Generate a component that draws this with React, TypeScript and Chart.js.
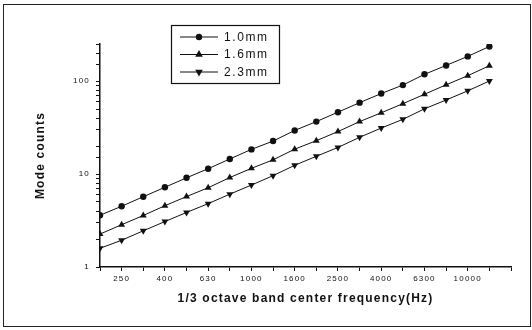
import { useEffect, useRef } from 'react';
import { Chart, registerables } from 'chart.js';
Chart.register(...registerables);

const bands = ['200', '250', '315', '400', '500', '630', '800', '1000', '1250', '1600', '2000', '2500', '3150', '4000', '5000', '6300', '8000', '10000', '12500', '16000'];
const labeledBands = ['250', '400', '630', '1000', '1600', '2500', '4000', '6300', '10000'];
const seriesNames = ['1.0mm', '1.6mm', '2.3mm'];
const mm10 = [3.6, 4.5, 5.7, 7.2, 9.1, 11.4, 14.5, 18.4, 22.6, 29.4, 36.6, 46.2, 58.5, 73.3, 90.4, 118, 147, 184, 235];
const mm16 = [2.26, 2.85, 3.58, 4.56, 5.72, 7.12, 9.16, 11.5, 14.2, 18.5, 22.8, 28.6, 36.6, 45.5, 57, 72, 91, 114, 146];
const mm23 = [1.59, 1.94, 2.45, 3.08, 3.86, 4.8, 6.07, 7.6, 9.6, 12.4, 15.5, 19.3, 24.8, 31.2, 38.7, 50.2, 62.5, 78.4, 100];
const yTickLabels = [1, 10, 100];
const xTitle = '1/3 octave band center frequency(Hz)';
const yTitle = 'Mode counts';

const seriesValues = [mm10, mm16, mm23];
const styles = [
  { pointStyle: 'circle', rotation: 0, radius: 3.2 },
  { pointStyle: 'triangle', rotation: 0, radius: 4 },
  { pointStyle: 'triangle', rotation: 180, radius: 4 },
];

function drawMarker(ctx: CanvasRenderingContext2D, style: string, rotation: number, r: number, x: number, y: number) {
  ctx.beginPath();
  if (style === 'circle') {
    ctx.arc(x, y, r, 0, Math.PI * 2);
  } else {
    const rad = (rotation * Math.PI) / 180;
    for (let k = 0; k < 3; k++) {
      const a = rad - Math.PI / 2 + (k * 2 * Math.PI) / 3;
      const px = x + Math.cos(a) * r * 1.1;
      const py = y + Math.sin(a) * r * 1.1;
      if (k === 0) ctx.moveTo(px, py);
      else ctx.lineTo(px, py);
    }
    ctx.closePath();
  }
  ctx.fill();
}

const framePlugin = {
  id: 'framePlugin',
  beforeDraw(chart: any) {
    chart.ctx.letterSpacing = '1.2px';
  },
  afterDraw(chart: any) {
    const ctx = chart.ctx as CanvasRenderingContext2D;
    ctx.save();
    ctx.strokeStyle = '#222';
    ctx.lineWidth = 1;
    ctx.strokeRect(3.5, 4.5, 527, 322);
    // legend box
    ctx.lineWidth = 1.2;
    ctx.strokeStyle = '#111';
    ctx.strokeRect(171.5, 25.5, 108, 58);
    ctx.fillStyle = '#111';
    ctx.font = '12px "Liberation Sans", Arial, sans-serif';
    ctx.letterSpacing = '1.6px';
    ctx.textBaseline = 'middle';
    chart.data.datasets.forEach((ds: any, i: number) => {
      const y = 37 + i * 17.5;
      ctx.beginPath();
      ctx.lineWidth = 1;
      ctx.moveTo(180, y);
      ctx.lineTo(218, y);
      ctx.stroke();
      const st = styles[i];
      drawMarker(ctx, st.pointStyle, st.rotation, st.radius, 199, y);
      ctx.fillText(ds.label, 224, y + 0.5);
    });
    ctx.restore();
  },
};

export default function App() {
  const ref = useRef<HTMLCanvasElement | null>(null);
  useEffect(() => {
    if (!ref.current) return;
    const chart = new Chart(ref.current, {
      type: 'line',
      data: {
        datasets: seriesValues.map((vals, i) => ({
          label: seriesNames[i],
          data: vals.map((v, j) => ({ x: j, y: v })),
          borderColor: '#111',
          backgroundColor: '#111',
          borderWidth: 1,
          pointStyle: styles[i].pointStyle as any,
          rotation: styles[i].rotation,
          pointRadius: styles[i].radius,
          pointBorderWidth: 0,
          pointBackgroundColor: '#111',
          tension: 0,
        })),
      },
      options: {
        animation: false,
        responsive: false,
        devicePixelRatio: 1,
        layout: { padding: { left: 0, right: 21, top: 44, bottom: 0 } },
        plugins: { legend: { display: false }, tooltip: { enabled: false } },
        scales: {
          x: {
            type: 'linear',
            min: 0,
            max: bands.length - 1,
            afterFit: (s: any) => { s.height = 63; },
            border: { color: '#111', width: 1.5 },
            grid: { drawOnChartArea: false, drawTicks: true, tickLength: 4, color: '#111', lineWidth: 1 },
            ticks: {
              stepSize: 1,
              autoSkip: false,
              maxRotation: 0,
              padding: 3,
              color: '#111',
              font: { size: 8, family: '"Liberation Sans", Arial, sans-serif' },
              callback: (v: any) => {
                const b = bands[Number(v)];
                return labeledBands.includes(b) ? b : '';
              },
            },
            title: {
              display: true,
              text: xTitle,
              color: '#111',
              font: { size: 12, weight: 'bold', family: '"Liberation Sans", Arial, sans-serif' },
              padding: { top: 0, bottom: 24 },
            },
          },
          y: {
            type: 'logarithmic',
            min: 1,
            max: 250,
            afterFit: (s: any) => { s.width = 100; },
            border: { color: '#111', width: 1.5 },
            grid: { drawOnChartArea: false, drawTicks: true, tickLength: 4, color: '#111', lineWidth: 1 },
            ticks: {
              autoSkip: false,
              padding: 6,
              color: '#111',
              font: { size: 8, family: '"Liberation Sans", Arial, sans-serif' },
              callback: (v: any) => (yTickLabels.includes(Number(v)) ? String(v) : ''),
            },
            title: {
              display: true,
              text: yTitle,
              color: '#111',
              font: { size: 12, weight: 'bold', family: '"Liberation Sans", Arial, sans-serif' },
              padding: { top: 33, bottom: 0 },
            },
          },
        },
      },
      plugins: [framePlugin],
    });
    return () => chart.destroy();
  }, []);
  return (
    <div style={{ position: 'fixed', left: 0, top: 0, width: 532, height: 330, background: '#fff' }}>
      <canvas ref={ref} width={532} height={330} style={{ display: 'block', width: 532, height: 330 }} />
    </div>
  );
}
